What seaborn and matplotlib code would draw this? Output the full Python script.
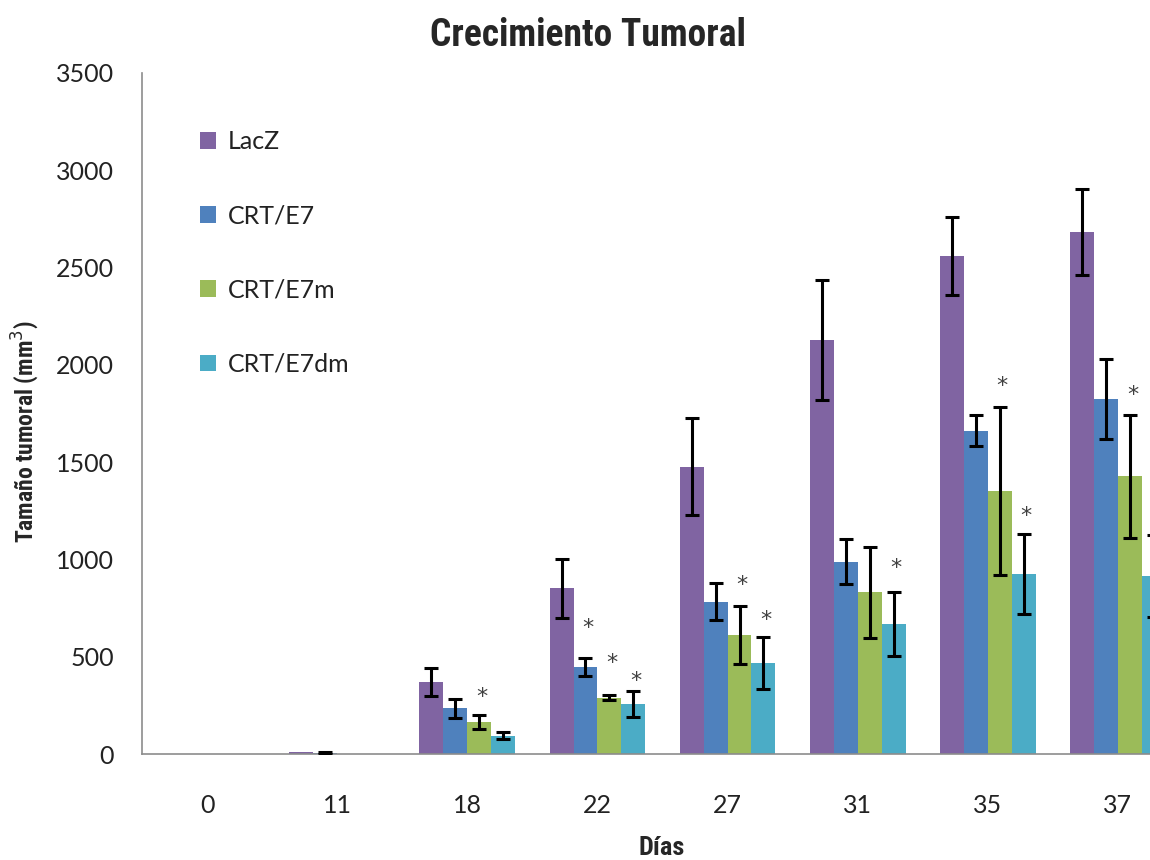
import matplotlib
matplotlib.use("Agg")
import matplotlib.pyplot as plt
from matplotlib.patches import Patch
import numpy as np
import pandas as pd
import seaborn as sns

# Days of measurement and groups
days = ["0", "11", "18", "22", "27", "31", "35", "37"]
groups = ["LacZ", "CRT/E7", "CRT/E7m", "CRT/E7dm"]

# Mean tumour volume (mm3) per group
lacz = [0, 8, 372, 851, 1477, 2128, 2561, 2683]
crt_e7 = [0, 4, 235, 446, 783, 988, 1662, 1826]
crt_e7m = [0, 0, 164, 289, 612, 831, 1351, 1427]
crt_e7dm = [0, 0, 94, 257, 466, 667, 925, 915]

# Standard error per group
lacz_err = [0, 0, 72, 150, 250, 308, 200, 220]
crt_e7_err = [0, 4, 48, 47, 94, 116, 80, 205]
crt_e7m_err = [0, 0, 35, 12, 150, 235, 430, 316]
crt_e7dm_err = [0, 0, 18, 65, 134, 164, 206, 210]

# Significance marks: day, group, height of the asterisk
sig_day = ["18", "22", "22", "22", "27", "27", "31", "35", "35", "37", "37"]
sig_group = ["CRT/E7m", "CRT/E7", "CRT/E7m", "CRT/E7dm", "CRT/E7m", "CRT/E7dm",
             "CRT/E7dm", "CRT/E7m", "CRT/E7dm", "CRT/E7m", "CRT/E7dm"]
sig_y = [293, 648, 468, 375, 869, 689, 956, 1891, 1223, 1845, 1170]

colors = ["#8064A2", "#4F81BD", "#9BBB59", "#4BACC6"]

means = [lacz, crt_e7, crt_e7m, crt_e7dm]
errs = [lacz_err, crt_e7_err, crt_e7m_err, crt_e7dm_err]

df = pd.DataFrame({
    "Día": np.tile(days, len(groups)),
    "Grupo": np.repeat(groups, len(days)),
    "Tamaño": np.concatenate(means),
    "Error": np.concatenate(errs),
})

sns.set_style("white")
narrow = ["Liberation Sans Narrow", "Roboto Condensed", "DejaVu Sans"]
body = ["Lato", "DejaVu Sans"]
plt.rcParams["font.family"] = body

fig = plt.figure(figsize=(11.5, 8.6), dpi=100)
ax = fig.add_axes([142 / 1150, 1 - 754 / 860, (1183 - 142) / 1150, (754 - 73) / 860])

sns.barplot(data=df, x="Día", y="Tamaño", hue="Grupo", order=days, hue_order=groups,
            palette=colors, saturation=1, errorbar=None, width=0.735, linewidth=0,
            legend=False, ax=ax)

# Error bars on top of each bar
centers = {}
for g, cont, err in zip(groups, ax.containers, errs):
    for d, bar, e in zip(days, cont, err):
        cx = bar.get_x() + bar.get_width() / 2
        h = bar.get_height()
        centers[(d, g)] = cx
        if e > 0:
            ax.errorbar(cx, h, yerr=e, fmt="none", ecolor="black",
                        elinewidth=2.2, capsize=5, capthick=2.2, zorder=5)

# Significance asterisks
for d, g, y in zip(sig_day, sig_group, sig_y):
    ax.text(centers[(d, g)] + 0.02, y, "*", ha="center", va="center",
            fontsize=16, color="#404040", family=["DejaVu Sans"], clip_on=False)

ax.set_xlim(-0.5, 7.5)
ax.set_ylim(0, 3500)
ax.set_yticks(np.arange(0, 3501, 500))
ax.set_xlabel("")
ax.set_ylabel("")
ax.tick_params(axis="y", length=0, pad=20, labelsize=18, labelcolor="#222222")
ax.tick_params(axis="x", length=0, pad=29, labelsize=18, labelcolor="#222222")

sns.despine(ax=ax, top=True, right=True)
for s in ("left", "bottom"):
    ax.spines[s].set_color("#8c8c8c")
    ax.spines[s].set_linewidth(1.2)

handles = [Patch(facecolor=c, edgecolor="none", label=g) for c, g in zip(colors, groups)]
fig.legend(handles=handles, loc="upper left", bbox_to_anchor=(200 / 1150, 1 - 130 / 860),
           frameon=False, fontsize=18, handlelength=0.65, handleheight=0.65,
           handletextpad=0.45, labelspacing=2.05, borderaxespad=0, borderpad=0,
           labelcolor="#222222")

fig.text(588 / 1150, 1 - 35 / 860, "Crecimiento Tumoral", ha="center", va="center",
         fontsize=27, fontweight="bold", family=narrow)
fig.text(25 / 1150, 1 - 432 / 860, "Tamaño tumoral (mm$^3$)", ha="center", va="center",
         rotation=90, fontsize=17, fontweight="bold", family=narrow)
fig.text(662 / 1150, 1 - 848 / 860, "Días", ha="center", va="center",
         fontsize=19, fontweight="bold", family=narrow)

fig.savefig("out.png", dpi=100, facecolor="white")
